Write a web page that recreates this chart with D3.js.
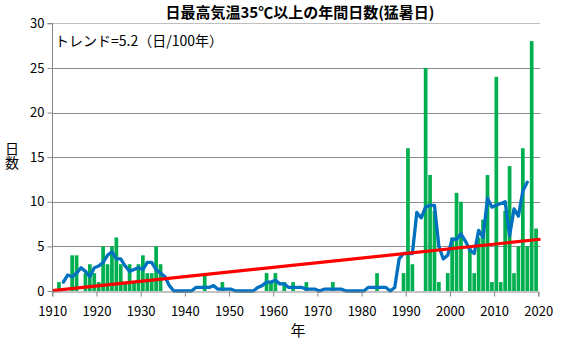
<!DOCTYPE html>
<html>
<head>
<meta charset="utf-8">
<script src="https://cdn.jsdelivr.net/npm/d3@7/dist/d3.min.js"></script>
<style>
  html, body { margin: 0; padding: 0; background: #fff; }
  svg { display: block; }
  text { font-family: "Noto Sans CJK JP", "Noto Sans", sans-serif; fill: #000; }
</style>
</head>
<body>
<svg id="chart" width="575" height="345"></svg>
<script>
// Annual count of days with a daily maximum of 35°C or more, 1910-2019
const firstYear = 1910;
const hotDays = [
  0, 1, 0, 0, 4, 4, 0, 2, 3, 2,      // 1910s
  1, 5, 3, 5, 6, 3, 1, 3, 1, 3,      // 1920s
  4, 2, 2, 5, 3, 0, 0, 0, 0, 0,      // 1930s
  0, 0, 0, 0, 2, 0, 0, 0, 1, 0,      // 1940s
  0, 0, 0, 0, 0, 0, 0, 0, 2, 1,      // 1950s
  2, 0, 1, 0, 1, 0, 0, 1, 0, 0,      // 1960s
  0, 0, 0, 1, 0, 0, 0, 0, 0, 0,      // 1970s
  0, 0, 0, 2, 0, 0, 0, 0, 0, 2,      // 1980s
  16, 3, 0, 0, 25, 13, 9, 1, 0, 2,   // 1990s
  6, 11, 10, 0, 5, 2, 6, 8, 13, 1,   // 2000s
  24, 1, 9, 14, 2, 5, 16, 5, 28, 7   // 2010s
];

// 5-year running mean, 1912-2017
const meanFirstYear = 1912;
const runningMean = [
  1.0, 1.8, 1.6, 2.0, 2.6, 2.2, 1.6, 2.6,
  2.8, 3.2, 4.0, 4.4, 3.6, 3.6, 2.8, 2.2, 2.4, 2.6,
  2.4, 3.2, 3.2, 2.4, 2.0, 1.6, 0.6, 0.0, 0.0, 0.0,
  0.0, 0.0, 0.4, 0.4, 0.4, 0.4, 0.6, 0.2, 0.2, 0.2,
  0.2, 0.0, 0.0, 0.0, 0.0, 0.0, 0.4, 0.6, 1.0, 1.0,
  1.2, 0.8, 0.8, 0.4, 0.4, 0.4, 0.4, 0.2, 0.2, 0.2,
  0.0, 0.2, 0.2, 0.2, 0.2, 0.2, 0.0, 0.0, 0.0, 0.0,
  0.0, 0.4, 0.4, 0.4, 0.4, 0.4, 0.0, 0.4, 3.6, 4.2,
  4.2, 4.2, 8.8, 8.2, 9.4, 9.6, 9.6, 5.0, 3.6, 4.0,
  5.8, 5.8, 6.4, 5.6, 4.6, 4.2, 6.8, 6.0, 10.4, 9.4,
  9.6, 9.8, 10.0, 6.2, 9.2, 8.4, 11.2, 12.2
];

// Linear trend: days per 100 years, and the fitted value at the start
const trendPer100 = 5.2;
const trendStartValue = 0.05;
const trendSpan = [1910, 2020.5];

const xTicks = [1910, 1920, 1930, 1940, 1950, 1960, 1970, 1980, 1990, 2000, 2010, 2020];
const yTicks = [0, 5, 10, 15, 20, 25, 30];

const titleText = "日最高気温35℃以上の年間日数(猛暑日)";
const trendLabel = "トレンド=" + trendPer100 + "（日/100年）";
const yTitle = "日数";
const xTitle = "年";

const svg = d3.select("#chart");
const plotLeft = 52.3, plotRight = 538.3, plotTop = 23.3, plotBottom = 291;

const x = d3.scaleLinear().domain([1910, 2020]).range([plotLeft, plotRight]);
const y = d3.scaleLinear().domain([0, 30]).range([plotBottom, plotTop]);

const years = hotDays.map((_, i) => firstYear + i);
const bars = years.map((yr, i) => ({ year: yr, value: hotDays[i] }));
const meanPts = runningMean.map((v, i) => ({ year: meanFirstYear + i, value: v }));

// gridlines
svg.append("g")
  .selectAll("line")
  .data(yTicks.filter(d => d > 0))
  .join("line")
  .attr("x1", plotLeft).attr("x2", plotRight + 2)
  .attr("y1", d => Math.round(y(d)) + 0.5).attr("y2", d => Math.round(y(d)) + 0.5)
  .attr("stroke", d => d === 30 ? "#bfbfbf" : "#8c8c8c")
  .attr("stroke-width", 1);

// bars
const slot = x(1911) - x(1910);
const barPad = 0.08;
svg.append("g")
  .selectAll("rect")
  .data(bars.filter(d => d.value > 0))
  .join("rect")
  .attr("x", d => x(d.year) + slot * barPad)
  .attr("width", slot * (1 - 2 * barPad))
  .attr("y", d => y(d.value))
  .attr("height", d => y(0) - y(d.value))
  .attr("fill", "#00b050");

// running mean
svg.append("path")
  .datum(meanPts)
  .attr("fill", "none")
  .attr("stroke", "#0070c0")
  .attr("stroke-width", 3.3)
  .attr("stroke-linejoin", "round")
  .attr("stroke-linecap", "round")
  .attr("d", d3.line().x(d => x(d.year + 0.5)).y(d => y(d.value)));

// trend line
const trendPts = trendSpan.map(yr => ({ year: yr, value: trendStartValue + trendPer100 * (yr - 1910) / 100 }));
svg.append("path")
  .datum(trendPts)
  .attr("fill", "none")
  .attr("stroke", "#ff0000")
  .attr("stroke-width", 3.2)
  .attr("d", d3.line().x(d => x(d.year)).y(d => y(d.value)));

// axes
const yAxis = svg.append("g")
  .attr("transform", `translate(${Math.round(plotLeft) + 0.5},0)`)
  .call(d3.axisLeft(y).tickValues(yTicks).tickSize(5).tickPadding(3).tickFormat(d3.format("d")));
const xAxis = svg.append("g")
  .attr("transform", `translate(0,${Math.round(plotBottom) + 0.5})`)
  .call(d3.axisBottom(x).tickValues(xTicks).tickSize(5).tickPadding(10).tickFormat(d3.format("d")));

[yAxis, xAxis].forEach(g => {
  g.select(".domain").attr("stroke", "#868686");
  g.selectAll(".tick line").attr("stroke", "#868686");
  g.selectAll(".tick text").attr("font-size", 13).attr("fill", "#000")
    .attr("font-family", "'Noto Sans CJK JP', sans-serif");
});
yAxis.select(".domain").attr("d", `M-5,${Math.round(plotTop) + 0.5}H0V${Math.round(plotBottom) + 0.5}`);

// texts
svg.append("text")
  .attr("x", 300).attr("y", 18)
  .attr("text-anchor", "middle")
  .attr("font-size", 15).attr("font-weight", "bold")
  .text(titleText);

svg.append("text")
  .attr("x", 55).attr("y", 46)
  .attr("font-size", 14)
  .text(trendLabel);

// vertical axis title, characters stacked upright
svg.append("text")
  .attr("x", 12).attr("y", 156)
  .attr("text-anchor", "middle")
  .style("writing-mode", "vertical-rl")
  .style("text-orientation", "upright")
  .attr("font-size", 14)
  .text(yTitle);

svg.append("text")
  .attr("x", 298).attr("y", 336)
  .attr("text-anchor", "middle")
  .attr("font-size", 15)
  .text(xTitle);
</script>
</body>
</html>
